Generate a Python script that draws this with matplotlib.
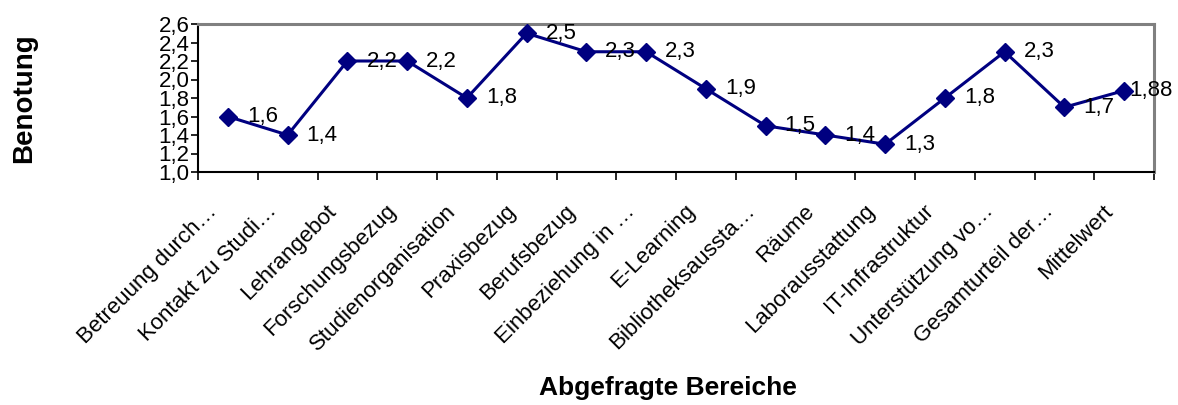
"""
Benotung der abgefragten Bereiche - Linienplot
"""

import numpy as np
import matplotlib.pyplot as plt
from matplotlib.ticker import FuncFormatter, MultipleLocator
from matplotlib.transforms import ScaledTranslation

plt.rcParams['font.family'] = ['Liberation Sans', 'DejaVu Sans']

bereiche = ['Betreuung durch…', 'Kontakt zu Studi…', 'Lehrangebot', 'Forschungsbezug',
            'Studienorganisation', 'Praxisbezug', 'Berufsbezug', 'Einbeziehung in …',
            'E-Learning', 'Bibliotheksaussta…', 'Räume', 'Laborausstattung',
            'IT-Infrastruktur', 'Unterstützung vo…', 'Gesamturteil der…', 'Mittelwert']
noten = [1.6, 1.4, 2.2, 2.2, 1.8, 2.5, 2.3, 2.3, 1.9, 1.5, 1.4, 1.3, 1.8, 2.3, 1.7, 1.88]
noten_text = ['1,6', '1,4', '2,2', '2,2', '1,8', '2,5', '2,3', '2,3', '1,9', '1,5', '1,4',
              '1,3', '1,8', '2,3', '1,7', '1,88']

W, H = 1178, 405
fig = plt.figure(figsize=(W/100, H/100), dpi=100)
ax = fig.add_axes([198/W, 1 - 172/H, 956/W, 148/H])

x = np.arange(len(noten))
ax.plot(x, noten, color='#000080', lw=2.2, marker='D', ms=9, mfc='#000080', mec='#000080',
        clip_on=False, zorder=3)

for i, (xv, yv) in enumerate(zip(x, noten)):
    dx = 19 if i < len(noten) - 1 else 5   # letzter Wert rückt nach links
    ax.annotate(noten_text[i], (xv, yv), xytext=(dx*0.72, 0), textcoords='offset points',
                ha='left', va='center', fontsize=16, zorder=4, annotation_clip=False)

ax.set_xlim(-0.5, len(noten) - 0.5)
ax.set_ylim(1.0, 2.6)
ax.yaxis.set_major_locator(MultipleLocator(0.2))
ax.yaxis.set_major_formatter(FuncFormatter(lambda v, p: ('%.1f' % v).replace('.', ',')))
ax.tick_params(axis='y', direction='out', length=5, width=1.2, pad=1, labelsize=16)

ax.set_xticks(x)
ax.set_xticklabels(bereiche, rotation=45, ha='right', va='center', rotation_mode='anchor',
                   fontsize=16)
ax.set_xticks(np.arange(-0.5, len(noten)), minor=True)
ax.tick_params(axis='x', which='major', length=0, pad=0)
ax.tick_params(axis='x', which='minor', direction='out', length=6, width=1.2)
off = ScaledTranslation(-14/100, -36/100, fig.dpi_scale_trans)
for lab in ax.get_xticklabels():
    lab.set_transform(lab.get_transform() + off)

for s in ['left', 'bottom']:
    ax.spines[s].set_color('black')
    ax.spines[s].set_linewidth(1.5)
for s in ['top', 'right']:
    ax.spines[s].set_color('#808080')
    ax.spines[s].set_linewidth(2.2)

fig.text(24/W, 1 - 98/H, 'Benotung', rotation=90, ha='center', va='center',
         fontsize=20, fontweight='bold')
fig.text(668/W, 1 - 388/H, 'Abgefragte Bereiche', ha='center', va='center',
         fontsize=19, fontweight='bold')

plt.savefig('out.png', dpi=100)
